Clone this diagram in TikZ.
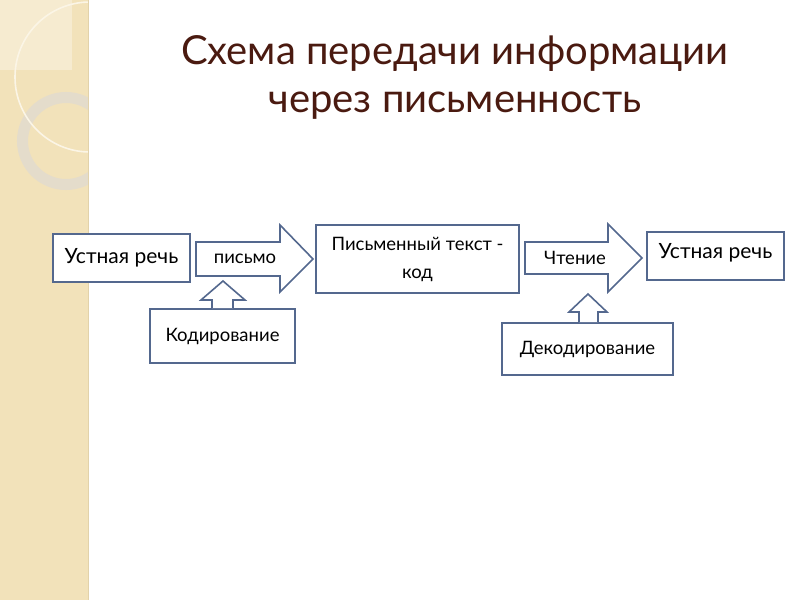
\documentclass[tikz,border=0pt]{standalone}
\usepackage{fontspec}
\setmainfont{Lato}
\definecolor{strip}{HTML}{F2E2BA}
\definecolor{stripedge}{HTML}{E2D2AA}
\definecolor{lightpatch}{HTML}{F6EBD0}
\definecolor{ringc}{HTML}{E4DCCB}
\definecolor{thinc}{HTML}{FBF5E6}
\definecolor{titlec}{HTML}{4A1A10}
\definecolor{boxc}{HTML}{54688E}
\tikzset{
  box/.style={draw=boxc, line width=1.6pt, fill=white, inner sep=0pt},
  blk/.style={draw=boxc, line width=1.6pt, fill=white, line join=miter},
  lbl/.style={inner sep=0pt, font=\fontsize{18.5}{22}\selectfont},
  big/.style={inner sep=0pt, font=\fontsize{21}{24}\selectfont}
}
\begin{document}
\begin{tikzpicture}[x=1pt,y=-1pt]
\useasboundingbox (0,0) rectangle (800,600);
\fill[white] (0,0) rectangle (800,600);
% left decorative strip
\begin{scope}
\clip (0,0) rectangle (88,600);
\fill[strip] (0,0) rectangle (88,600);
\fill[lightpatch] (0,0) rectangle (72,70);
\draw[ringc, line width=11pt] (66,141) circle (43.5);
\draw[thinc, line width=1.6pt] (90,77) circle (75);
\end{scope}
\draw[stripedge, line width=0.8pt] (88,0) -- (88,600);
% title
\node[inner sep=0pt, text=titlec, font=\fontsize{40}{48}\selectfont, align=center] (title) at (455,77) {Схема передачи информации\\через письменность};
% boxes
\node[box, minimum width=137pt, minimum height=48pt, big] (u1) at (121.5,258) {Устная речь};
\node[box, minimum width=203pt, minimum height=68pt] (pt) at (417.5,259) {};
\node[lbl, align=center] (ptt) at (417.5,259) {Письменный текст -\\[6pt]код};
\node[box, minimum width=137pt, minimum height=48pt] (u2) at (715.5,256) {};
\node[big] (u2t) at (715.5,253) {Устная речь};
\node[box, minimum width=145pt, minimum height=54pt, lbl] (kod) at (222.5,336) {Кодирование};
\node[box, minimum width=171pt, minimum height=52pt, lbl] (dek) at (587.5,349) {Декодирование};
% block arrows
\draw[blk] (196,242) -- (280,242) -- (280,225) -- (313,259) -- (280,292) -- (280,276) -- (196,276) -- cycle;
\node[lbl] (pis) at (245,259) {письмо};
\draw[blk] (525,242) -- (608,242) -- (608,224) -- (642,258) -- (608,292) -- (608,274) -- (525,274) -- cycle;
\node[lbl] (cht) at (575,258) {Чтение};
\draw[blk] (kod.north -| 212,0) -- (212,300) -- (201,300) -- (223,281) -- (245,300) -- (233,300) -- (kod.north -| 233,0);
\draw[blk] (dek.north -| 579,0) -- (579,312) -- (569,312) -- (588,294) -- (607,312) -- (598,312) -- (dek.north -| 598,0);
\end{tikzpicture}
\end{document}
